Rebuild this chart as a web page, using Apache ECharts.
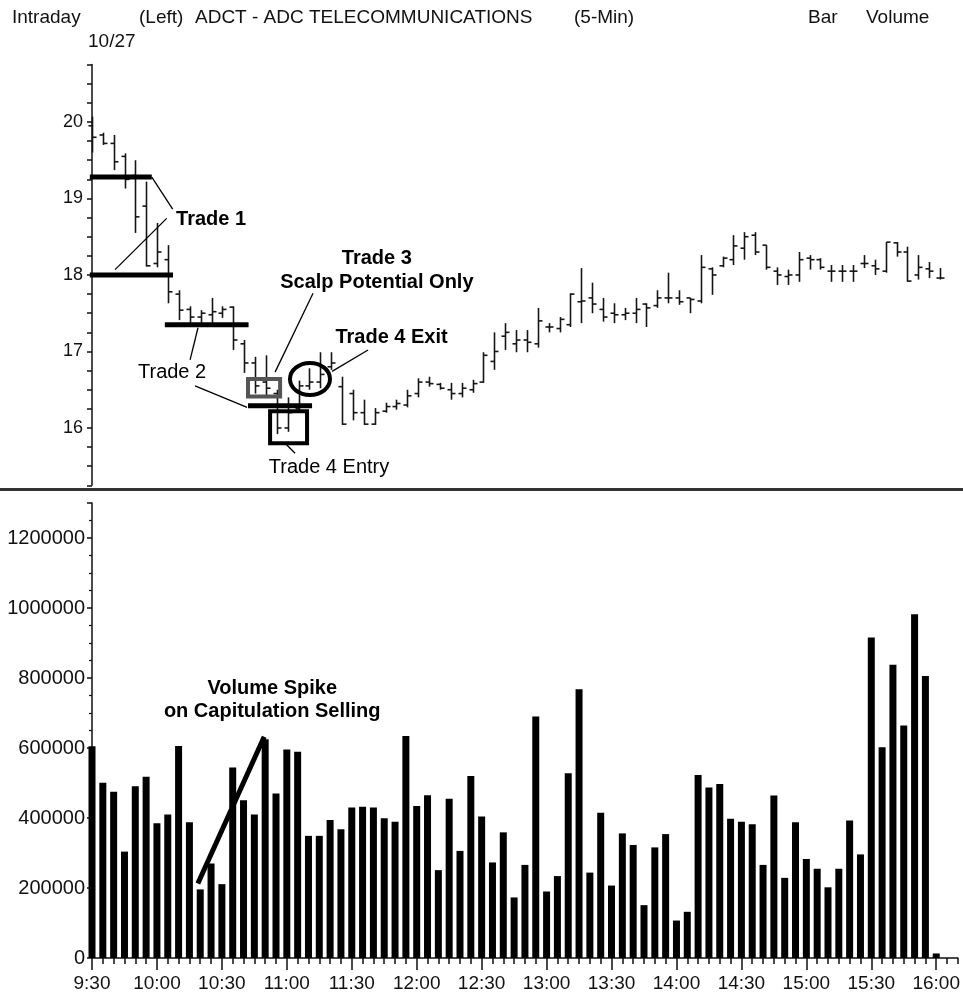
<!DOCTYPE html>
<html>
<head>
<meta charset="utf-8">
<script src="https://cdn.jsdelivr.net/npm/echarts@6/dist/echarts.min.js"></script>
<style>
html, body { margin: 0; padding: 0; background: #fff; }
#chart { width: 963px; height: 1008px; }
</style>
</head>
<body>
<div id="chart"></div>
<script>
// 5-min bars, 9:30 .. 16:00 (79 bars)
var tickLabels = ['9:30', '10:00', '10:30', '11:00', '11:30', '12:00', '12:30', '13:00',
	'13:30', '14:00', '14:30', '15:00', '15:30', '16:00'];
var tickPos = [0, 6, 12, 18, 24, 30, 36, 42, 48, 54, 60, 66, 72, 78];
var priceLabels = [16, 17, 18, 19, 20];
var volumeLabels = [0, 200000, 400000, 600000, 800000, 1000000, 1200000];

var opens = [19.95, 19.83, 19.72, 19.55, 19.30, 18.90, 18.15, 18.20, 17.75, 17.55,
	17.45, 17.48, 17.50, 17.58, 17.10, 16.85, 16.60, 16.45, 16.00, 16.25,
	16.55, 16.60, 16.80, 16.54, 16.45, 16.20, 16.05, 16.22, 16.28, 16.30,
	16.45, 16.60, 16.57, 16.50, 16.45, 16.50, 16.60, 16.87, 17.20, 17.10,
	17.15, 17.10, 17.32, 17.30, 17.35, 17.65, 17.70, 17.55, 17.50, 17.48,
	17.50, 17.62, 17.60, 17.70, 17.70, 17.70, 17.66, 18.08, 18.12, 18.20,
	18.35, 18.52, 18.39, 18.05, 17.98, 18.00, 18.22, 18.20, 18.05, 18.05,
	18.05, 18.15, 18.12, 18.05, 18.42, 18.30, 18.00, 18.08, 17.96];
var highs = [20.07, 19.86, 19.83, 19.59, 19.50, 19.22, 18.68, 18.39, 17.80, 17.59,
	17.54, 17.70, 17.59, 17.59, 17.15, 16.93, 16.95, 16.50, 16.40, 16.62,
	16.78, 16.99, 16.99, 16.67, 16.50, 16.37, 16.26, 16.33, 16.37, 16.50,
	16.65, 16.67, 16.59, 16.59, 16.59, 16.63, 16.99, 17.25, 17.37, 17.28,
	17.28, 17.57, 17.37, 17.45, 17.76, 18.09, 17.90, 17.70, 17.63, 17.57,
	17.70, 17.63, 17.80, 18.03, 17.80, 17.70, 18.26, 18.10, 18.24, 18.52,
	18.56, 18.56, 18.39, 18.10, 18.07, 18.30, 18.26, 18.22, 18.13, 18.13,
	18.13, 18.26, 18.20, 18.43, 18.43, 18.37, 18.26, 18.17, 18.09];
var lows = [19.60, 19.70, 19.37, 19.13, 18.55, 18.11, 18.10, 17.63, 17.41, 17.37,
	17.37, 17.37, 17.44, 17.02, 16.72, 16.45, 16.42, 15.92, 15.95, 16.20,
	16.50, 16.52, 16.76, 16.04, 16.10, 16.04, 16.04, 16.20, 16.24, 16.27,
	16.40, 16.54, 16.50, 16.37, 16.40, 16.46, 16.59, 16.76, 17.02, 16.99,
	16.99, 17.05, 17.25, 17.25, 17.32, 17.37, 17.50, 17.39, 17.37, 17.41,
	17.37, 17.32, 17.57, 17.63, 17.61, 17.50, 17.63, 17.74, 18.10, 18.13,
	18.20, 18.26, 18.07, 17.87, 17.87, 17.91, 18.07, 18.07, 17.91, 17.91,
	17.91, 18.09, 18.00, 18.03, 18.24, 17.91, 17.94, 17.96, 17.94];
var closes = [19.80, 19.72, 19.48, 19.25, 18.76, 18.12, 18.30, 17.78, 17.54, 17.45,
	17.50, 17.52, 17.55, 17.15, 16.85, 16.55, 16.52, 16.00, 16.20, 16.55,
	16.60, 16.70, 16.85, 16.05, 16.20, 16.05, 16.20, 16.28, 16.32, 16.42,
	16.60, 16.58, 16.52, 16.45, 16.52, 16.58, 16.95, 17.00, 17.25, 17.15,
	17.12, 17.40, 17.32, 17.42, 17.75, 17.66, 17.62, 17.45, 17.48, 17.50,
	17.55, 17.57, 17.70, 17.70, 17.65, 17.68, 18.10, 18.00, 18.22, 18.38,
	18.50, 18.30, 18.10, 18.00, 18.00, 18.20, 18.20, 18.10, 18.05, 18.05,
	18.05, 18.15, 18.08, 18.43, 18.30, 17.92, 18.10, 18.05, 17.96];
var volumes = [605000, 501000, 475000, 304000, 491000, 518000, 385000, 410000, 606000, 388000,
	196000, 270000, 211000, 544000, 451000, 410000, 625000, 470000, 596000, 589000,
	349000, 349000, 394000, 368000, 430000, 432000, 430000, 399000, 389000, 634000,
	434000, 465000, 251000, 455000, 306000, 520000, 404000, 273000, 359000, 173000,
	266000, 690000, 190000, 234000, 528000, 768000, 244000, 415000, 207000, 356000,
	323000, 151000, 316000, 354000, 107000, 132000, 523000, 487000, 497000, 398000,
	389000, 382000, 266000, 464000, 229000, 388000, 283000, 255000, 202000, 255000,
	393000, 296000, 916000, 602000, 838000, 664000, 982000, 806000, 13000];

var ohlcData = opens.map(function (o, i) { return [i, o, highs[i], lows[i], closes[i]]; });
var volData = volumes.map(function (v, i) { return [i, v]; });

var chart = echarts.init(document.getElementById('chart'));
var txt = '#111';
var labelFont = 'Liberation Sans, Arial, sans-serif';

function renderOhlc(params, api) {
	var i = api.value(0);
	var h = api.coord([i, api.value(2)]);
	var l = api.coord([i, api.value(3)]);
	var o = api.coord([i, api.value(1)]);
	var c = api.coord([i, api.value(4)]);
	var x = Math.round(h[0]) + 0.5;
	var st = { stroke: '#151515', lineWidth: 1.6 };
	return {
		type: 'group',
		children: [
			{ type: 'line', shape: { x1: x, y1: h[1], x2: x, y2: l[1] }, style: st },
			{ type: 'line', shape: { x1: x - 4, y1: o[1], x2: x, y2: o[1] }, style: st },
			{ type: 'line', shape: { x1: x, y1: c[1], x2: x + 4, y2: c[1] }, style: st }
		]
	};
}

var gridW = 869.8;
var option = {
	animation: false,
	backgroundColor: '#fff',
	grid: [
		{ left: 92, top: 64.6, width: gridW, height: 420.75 },
		{ left: 92, top: 503, width: gridW, height: 455 }
	],
	xAxis: [{
		gridIndex: 0,
		type: 'value',
		min: 0, max: 80, interval: 6,
		show: false
	}, {
		gridIndex: 1,
		type: 'value',
		position: 'bottom',
		min: 0, max: 80, interval: 6,
		axisLine: { lineStyle: { color: txt, width: 1.5 } },
		axisTick: { length: 12, customValues: tickPos, lineStyle: { color: txt, width: 1.5 } },
		splitLine: { show: false },
		axisLabel: {
			color: txt, fontSize: 19, fontFamily: labelFont, margin: 16,
			customValues: tickPos,
			formatter: function (v) { return tickLabels[tickPos.indexOf(v)] || ''; }
		}
	}, {
		// 5-minute ticks
		gridIndex: 1,
		type: 'value',
		position: 'bottom',
		offset: 0,
		min: 0, max: 80, interval: 1,
		axisLine: { show: false },
		axisTick: { length: 6, lineStyle: { color: txt, width: 1.5 } },
		axisLabel: { show: false },
		splitLine: { show: false }
	}],
	yAxis: [{
		gridIndex: 0,
		type: 'value',
		min: 15.25, max: 20.75, interval: 0.25,
		axisLine: { show: true, lineStyle: { color: txt, width: 1.5 } },
		axisTick: { show: true, length: 5, lineStyle: { color: txt, width: 1.5 } },
		splitLine: { show: false },
		axisLabel: {
			color: txt, fontSize: 18, fontFamily: labelFont, margin: 9,
			formatter: function (v) {
				var r = Math.round(v * 4);
				return (r % 4 === 0 && priceLabels.indexOf(r / 4) >= 0) ? String(r / 4) : '';
			}
		}
	}, {
		gridIndex: 1,
		type: 'value',
		min: 0, max: 1300000, interval: 200000,
		axisLine: { show: true, lineStyle: { color: txt, width: 1.5 } },
		axisTick: { show: true, length: 5, lineStyle: { color: txt, width: 1.5 } },
		minorTick: { show: true, splitNumber: 4, length: 3, lineStyle: { color: txt, width: 1.2 } },
		splitLine: { show: false },
		axisLabel: {
			color: txt, fontSize: 20, fontFamily: labelFont, margin: 7, showMaxLabel: false,
			formatter: function (v) { return volumeLabels.indexOf(v) >= 0 ? String(v) : ''; }
		}
	}],
	series: [{
		name: 'ADCT',
		type: 'custom',
		xAxisIndex: 0,
		yAxisIndex: 0,
		renderItem: renderOhlc,
		encode: { x: 0, y: [1, 2, 3, 4] },
		data: ohlcData,
		clip: false
	}, {
		name: 'Volume',
		type: 'bar',
		xAxisIndex: 1,
		yAxisIndex: 1,
		barWidth: 7,
		itemStyle: { color: '#000' },
		data: volData
	}]
};
chart.setOption(option);

// annotations, placed in data coordinates
function px(g, x, y) { return chart.convertToPixel({ gridIndex: g }, [x, y]); }
function seg(g, a, b, w, color) {
	var p = px(g, a[0], a[1]), q = px(g, b[0], b[1]);
	return { type: 'line', shape: { x1: p[0], y1: p[1], x2: q[0], y2: q[1] },
		style: { stroke: color || '#000', lineWidth: w || 1.3 }, z: 10 };
}
function box(g, a, b, w, color) {
	var p = px(g, a[0], a[1]), q = px(g, b[0], b[1]);
	return { type: 'rect', shape: { x: Math.min(p[0], q[0]), y: Math.min(p[1], q[1]),
		width: Math.abs(q[0] - p[0]), height: Math.abs(q[1] - p[1]) },
		style: { fill: null, stroke: color || '#000', lineWidth: w }, z: 10 };
}
function label(g, x, y, text, weight, align) {
	var p = px(g, x, y);
	return { type: 'text', x: p[0], y: p[1], z: 11,
		style: { text: text, font: (weight || 'normal') + ' 20px ' + labelFont, fill: '#000',
			textAlign: align || 'center', align: align || 'center',
			textVerticalAlign: 'middle', verticalAlign: 'middle' } };
}
function head(x, y, text) {
	return { type: 'text', x: x, y: y, z: 11,
		style: { text: text, font: '19px ' + labelFont, fill: txt,
			textAlign: 'left', align: 'left', textVerticalAlign: 'middle', verticalAlign: 'middle' } };
}

var ec = px(0, 20.05, 16.64);
var ee = px(0, 21.89, 16.43);
var graphic = [
	head(12, 18, 'Intraday'),
	head(139, 18, '(Left)'),
	head(195, 18, 'ADCT - ADC TELECOMMUNICATIONS'),
	head(574, 18, '(5-Min)'),
	head(808, 18, 'Bar'),
	head(866, 18, 'Volume'),
	head(88, 42, '10/27'),
	{ type: 'line', shape: { x1: 0, y1: 489.5, x2: 963, y2: 489.5 }, style: { stroke: '#333', lineWidth: 3 }, z: 10 },
	// Trade 1
	seg(0, [-0.2, 19.28], [5.5, 19.28], 5),
	seg(0, [-0.2, 18.0], [7.45, 18.0], 5),
	seg(0, [5.5, 19.28], [7.42, 18.86]),
	seg(0, [2.12, 18.07], [6.87, 18.74]),
	label(0, 7.73, 18.72, 'Trade 1', 'bold', 'left'),
	// Trade 2
	seg(0, [6.7, 17.35], [14.4, 17.35], 5),
	seg(0, [9.75, 17.31], [9.02, 16.89]),
	label(0, 4.23, 16.72, 'Trade 2', 'normal', 'left'),
	seg(0, [9.48, 16.55], [14.26, 16.27]),
	seg(0, [14.35, 16.29], [20.24, 16.29], 5),
	// Trade 3
	box(0, [14.35, 16.64], [17.3, 16.41], 4, '#555'),
	seg(0, [16.84, 16.73], [20.33, 17.76]),
	label(0, 26.2, 18.22, 'Trade 3', 'bold'),
	label(0, 26.2, 17.9, 'Scalp Potential Only', 'bold'),
	// Trade 4
	box(0, [16.38, 16.22], [19.78, 15.8], 4),
	seg(0, [17.76, 15.8], [18.68, 15.67]),
	label(0, 21.8, 15.48, 'Trade 4 Entry', 'normal'),
	{ type: 'ellipse', shape: { cx: ec[0], cy: ec[1], rx: Math.abs(ee[0] - ec[0]), ry: Math.abs(ee[1] - ec[1]) },
		style: { fill: null, stroke: '#000', lineWidth: 4 }, z: 10 },
	seg(0, [22.08, 16.74], [25.39, 17.02]),
	label(0, 27.55, 17.18, 'Trade 4 Exit', 'bold'),
	// volume spike
	seg(1, [9.78, 213000], [15.91, 632000], 5),
	label(1, 16.65, 771000, 'Volume Spike', 'bold'),
	label(1, 16.65, 703000, 'on Capitulation Selling', 'bold')
];
chart.setOption({ graphic: graphic });
</script>
</body>
</html>
